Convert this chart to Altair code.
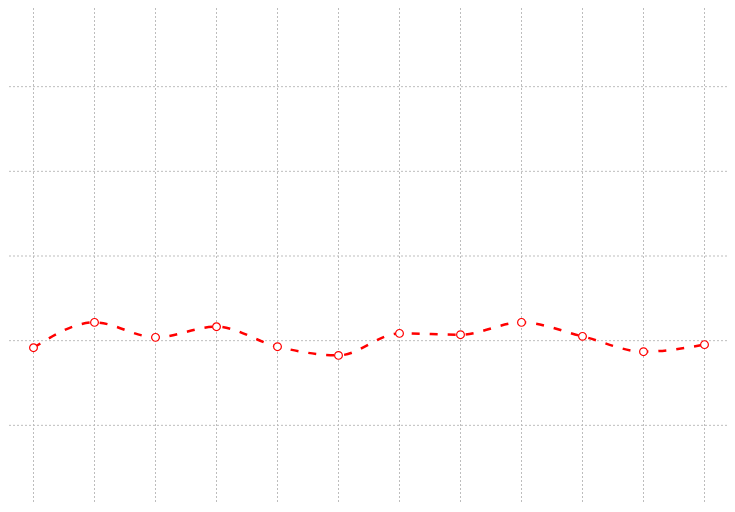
import altair as alt
import pandas as pd

# Values (12 points)
idx = list(range(12))
values = [19.17, 22.16, 20.39, 21.65, 19.29, 18.26, 20.86, 20.71, 22.16, 20.51, 18.70, 19.53]
y_ticks = [0, 10, 20, 30, 40, 50]

df = pd.DataFrame({"i": idx, "v": values})
vgrid = pd.DataFrame({"i": idx})
hgrid = pd.DataFrame({"v": y_ticks})

x_scale = alt.Scale(domain=[-0.5, 11.5], range=[-5, 727], nice=False, zero=False)
y_scale = alt.Scale(domain=[0, 60], range=[502, -6], nice=False, zero=False)

grid_style = dict(color="#bdbdbd", strokeWidth=1, strokeDash=[2, 2])

vlines = alt.Chart(vgrid).mark_rule(**grid_style).encode(
    x=alt.X("i:Q", scale=x_scale, axis=None)
)
hlines = alt.Chart(hgrid).mark_rule(**grid_style).encode(
    y=alt.Y("v:Q", scale=y_scale, axis=None)
)

base = alt.Chart(df).encode(
    x=alt.X("i:Q", scale=x_scale, axis=None),
    y=alt.Y("v:Q", scale=y_scale, axis=None),
)

line = base.mark_line(color="#ff0000", strokeWidth=2.5, strokeDash=[8, 10],
                      interpolate="monotone")
pts = base.mark_point(shape="circle", size=60, filled=False, fill="white",
                      fillOpacity=1, stroke="#ff0000", strokeWidth=1.2, opacity=1)

chart = alt.layer(vlines, hlines, line, pts).properties(
    width=719, height=496,
    autosize=alt.AutoSizeParams(type="none"),
    padding=0,
).configure_view(stroke=None)

chart.save("out.html", embed_options={"renderer": "svg", "actions": False})
